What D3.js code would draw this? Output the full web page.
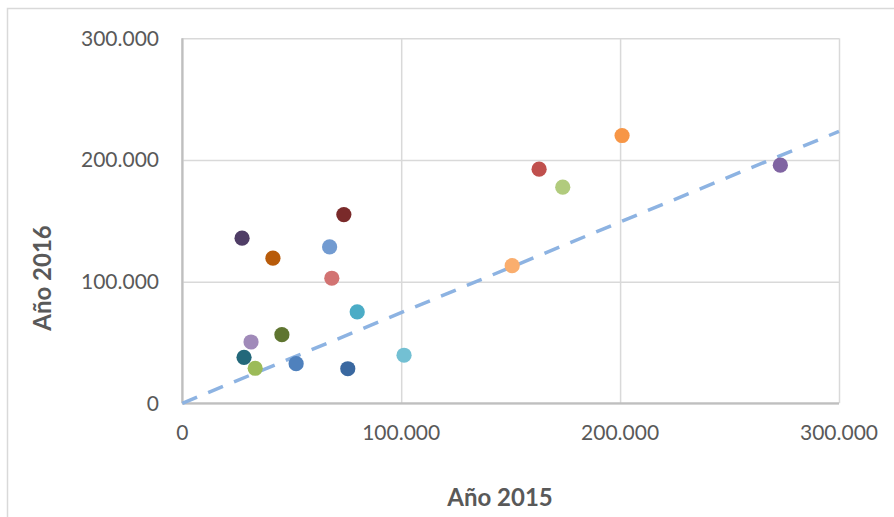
<!DOCTYPE html>
<html>
<head>
<meta charset="utf-8">
<script src="https://cdn.jsdelivr.net/npm/d3@7"></script>
<style>
  body { margin: 0; background: #fff; }
  text { font-family: Lato, "Open Sans", sans-serif; }
</style>
</head>
<body>
<script>
// valores (miles)
const anio2015 = [27300, 41400, 73800, 67300, 68300, 79900, 45500, 31400, 28200,
  33300, 52000, 75600, 101300, 150700, 163000, 173800, 200900, 273200];
const anio2016 = [135700, 119300, 155100, 128500, 102800, 75100, 56400, 50400, 37800,
  28800, 32600, 28400, 39500, 113100, 192400, 177600, 220100, 195700];
const colores = ['#4f3d66', '#b85b0a', '#7a2a2a', '#729bd1', '#d27372', '#4bacc6',
  '#5f7530', '#a08ab9', '#23687a', '#9cbb58', '#4f81bd', '#3a68a0', '#73c0d3',
  '#faae6e', '#c0504d', '#b1cb7d', '#f79646', '#8064a2'];
const ticks = [0, 100000, 200000, 300000];
const tendenciaX = [0, 300000];
const tendenciaY = [0, 223500];

const width = 894,
  height = 517,
  mLeft = 182.3,
  mRight = 839,
  mTop = 38.3,
  mBottom = 403.3;

const es = d3.formatLocale({ decimal: ',', thousands: '.', grouping: [3], currency: ['', ''] });
const fmt = es.format(',');

const x = d3.scaleLinear().domain([0, 300000]).range([mLeft, mRight]);
const y = d3.scaleLinear().domain([0, 300000]).range([mBottom, mTop]);

const svg = d3
  .select('body')
  .append('svg')
  .attr('width', width)
  .attr('height', height);

// borde del grafico
svg
  .append('rect')
  .attr('x', 7.5)
  .attr('y', 8.5)
  .attr('width', 920)
  .attr('height', 540)
  .attr('fill', '#fff')
  .attr('stroke', '#d9d9d9')
  .attr('stroke-width', 1.5);

// rejilla
svg
  .append('g')
  .attr('transform', `translate(0,${mBottom})`)
  .call(d3.axisBottom(x).tickValues(ticks).tickSize(-(mBottom - mTop)).tickFormat(''))
  .call(g => g.select('.domain').remove())
  .call(g => g.selectAll('line').attr('stroke', '#d9d9d9').attr('stroke-width', 1.5));

svg
  .append('g')
  .attr('transform', `translate(${mLeft},0)`)
  .call(d3.axisLeft(y).tickValues(ticks).tickSize(-(mRight - mLeft)).tickFormat(''))
  .call(g => g.select('.domain').remove())
  .call(g => g.selectAll('line').attr('stroke', '#d9d9d9').attr('stroke-width', 1.5));

// ejes
svg
  .append('line')
  .attr('x1', mLeft).attr('x2', mRight)
  .attr('y1', mBottom).attr('y2', mBottom)
  .attr('stroke', '#bfbfbf').attr('stroke-width', 2.2);
svg
  .append('line')
  .attr('x1', mLeft).attr('x2', mLeft)
  .attr('y1', mTop).attr('y2', mBottom)
  .attr('stroke', '#bfbfbf').attr('stroke-width', 2.2);

// etiquetas
svg
  .append('g')
  .selectAll('text')
  .data(ticks)
  .join('text')
  .attr('x', d => x(d))
  .attr('y', 440)
  .attr('text-anchor', 'middle')
  .attr('font-size', 21)
  .attr('fill', '#595959')
  .text(d => fmt(d));

svg
  .append('g')
  .selectAll('text')
  .data(ticks)
  .join('text')
  .attr('x', 159)
  .attr('y', d => y(d) + 7.5)
  .attr('text-anchor', 'end')
  .attr('font-size', 21)
  .attr('fill', '#595959')
  .text(d => fmt(d));

// tendencia
svg
  .append('line')
  .attr('x1', x(tendenciaX[0]))
  .attr('y1', y(tendenciaY[0]))
  .attr('x2', x(tendenciaX[1]))
  .attr('y2', y(tendenciaY[1]))
  .attr('stroke', '#8db3e2')
  .attr('stroke-width', 3.5)
  .attr('stroke-dasharray', '16,12');

// puntos
svg
  .append('g')
  .selectAll('circle')
  .data(anio2015)
  .join('circle')
  .attr('cx', d => x(d))
  .attr('cy', (d, i) => y(anio2016[i]))
  .attr('r', 7.6)
  .attr('fill', (d, i) => colores[i]);

// titulos
svg
  .append('text')
  .attr('x', 500)
  .attr('y', 506)
  .attr('text-anchor', 'middle')
  .attr('font-size', 24)
  .attr('font-weight', 'bold')
  .attr('fill', '#595959')
  .text('Año 2015');

svg
  .append('text')
  .attr('transform', 'translate(51,278) rotate(-90)')
  .attr('text-anchor', 'middle')
  .attr('font-size', 24)
  .attr('font-weight', 'bold')
  .attr('fill', '#595959')
  .text('Año 2016');
</script>
</body>
</html>
